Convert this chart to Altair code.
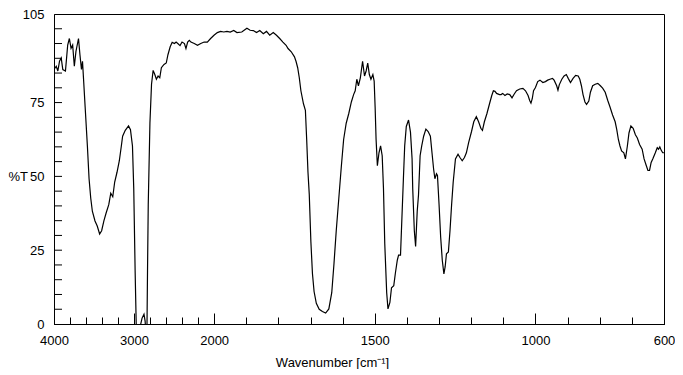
import altair as alt
import pandas as pd

wavenumber = [
    4000, 3972, 3952, 3931, 3910, 3890, 3857, 3829, 3808, 3787, 3767, 3746, 3726, 3694, 3676, 3657, 3644, 3632,
    3611, 3583, 3562, 3541, 3521, 3488, 3460, 3430, 3405, 3377, 3349, 3316, 3291, 3266, 3242, 3213, 3184, 3159,
    3143, 3110, 3069, 3045, 3020, 3004, 2987, 2971, 2950, 2925, 2900, 2876, 2862, 2852, 2839, 2832, 2823, 2802,
    2782, 2762, 2741, 2721, 2700, 2679, 2659, 2626, 2598, 2577, 2549, 2524, 2495, 2475, 2454, 2426, 2401, 2371,
    2352, 2331, 2310, 2290, 2248, 2208, 2167, 2125, 2085, 2044, 2002, 1990, 1980, 1970, 1960, 1950, 1939, 1929,
    1914, 1898, 1888, 1878, 1868, 1858, 1847, 1837, 1827, 1816, 1806, 1796, 1786, 1776, 1770, 1760, 1750, 1745,
    1740, 1735, 1730, 1722, 1716, 1712, 1708, 1704, 1699, 1694, 1689, 1682, 1673, 1663, 1653, 1643, 1634, 1627,
    1620, 1612, 1604, 1597, 1589, 1581, 1573, 1566, 1561, 1556, 1551, 1545, 1538, 1532, 1527, 1522, 1517, 1512,
    1506, 1502, 1499, 1496, 1492, 1487, 1482, 1477, 1473, 1469, 1463, 1459, 1453, 1448, 1441, 1436, 1430, 1426,
    1420, 1416, 1411, 1407, 1402, 1395, 1389, 1384, 1382, 1377, 1373, 1368, 1364, 1359, 1354, 1348, 1341, 1334,
    1327, 1322, 1317, 1313, 1308, 1305, 1300, 1295, 1290, 1285, 1281, 1277, 1271, 1266, 1261, 1256, 1249, 1241,
    1235, 1228, 1221, 1215, 1208, 1199, 1192, 1184, 1177, 1170, 1165, 1159, 1151, 1143, 1136, 1131, 1126, 1121,
    1112, 1107, 1102, 1095, 1088, 1080, 1073, 1066, 1059, 1049, 1039, 1031, 1023, 1018, 1014, 1010, 1006, 1000,
    993, 986, 977, 969, 962, 955, 947, 942, 934, 930, 926, 918, 911, 904, 898, 891, 883, 875, 867, 862, 857, 852,
    846, 841, 834, 829, 822, 814, 806, 798, 791, 783, 775, 768, 760, 752, 747, 742, 737, 732, 725, 720, 714, 709,
    703, 696, 689, 683, 676, 668, 662, 655, 650, 645, 640, 635, 627, 621, 617, 613, 609, 604, 600,
]

transmittance = [
    86.2, 87.3, 85.7, 89.0, 90.1, 86.2, 85.7, 94.5, 96.7, 93.4, 94.5, 87.3, 92.3, 96.7, 91.2, 86.2, 89.0, 83.4,
    73.5, 60.3, 49.2, 42.6, 38.2, 34.9, 33.2, 30.5, 31.6, 34.9, 37.6, 40.4, 44.3, 43.1, 48.1, 51.4, 55.3, 60.3,
    63.6, 65.6, 67.1, 65.8, 60.3, 45.9, 18.3, -3.0, -3.0, -1.0, 2.0, 3.3, 1.0, -3.0, -2.0, 18.0, 40.4, 68.0,
    81.2, 85.9, 84.5, 82.9, 84.0, 83.4, 86.8, 87.9, 88.4, 91.2, 93.9, 95.4, 95.0, 95.5, 95.0, 94.3, 95.5, 95.0,
    93.3, 95.5, 96.1, 95.5, 95.0, 94.4, 95.0, 95.5, 95.5, 96.7, 97.8, 98.7, 99.1, 98.9, 99.1, 98.9, 99.4, 98.7,
    98.9, 100.2, 99.5, 99.4, 98.7, 99.4, 98.3, 99.1, 97.8, 98.7, 97.8, 96.7, 95.5, 94.4, 93.3, 92.2, 90.5, 88.9,
    86.8, 83.4, 79.0, 74.6, 72.4, 62.5, 51.5, 44.0, 28.0, 17.0, 11.0, 7.0, 5.0, 4.2, 3.7, 5.1, 10.6, 20.5,
    31.6, 42.6, 53.6, 62.5, 68.0, 71.3, 75.2, 77.7, 79.0, 82.9, 80.7, 83.4, 89.0, 84.0, 85.7, 88.4, 84.5, 82.9,
    84.5, 82.3, 73.5, 62.5, 53.6, 58.0, 60.3, 57.0, 45.9, 27.2, 10.6, 5.1, 7.3, 12.3, 13.0, 17.2, 21.6, 23.3,
    23.3, 34.9, 49.2, 60.3, 66.9, 69.1, 65.0, 56.0, 45.9, 31.6, 26.3, 38.2, 43.7, 57.0, 60.3, 63.6, 66.0, 65.2,
    63.6, 58.0, 52.5, 49.2, 50.9, 50.3, 40.4, 29.4, 21.6, 17.0, 19.4, 23.8, 24.4, 31.6, 40.4, 48.1, 55.9, 57.5,
    56.4, 55.3, 56.4, 58.0, 61.4, 65.2, 68.5, 70.2, 68.5, 66.3, 65.6, 68.5, 71.3, 74.6, 77.4, 79.0, 78.8, 78.1,
    77.7, 77.7, 78.1, 77.4, 77.9, 77.7, 76.6, 77.9, 79.0, 79.6, 79.8, 79.0, 77.4, 75.7, 74.8, 76.3, 79.0, 80.1,
    82.1, 82.6, 81.8, 82.1, 82.6, 82.9, 83.2, 82.6, 80.7, 79.2, 81.0, 82.9, 84.0, 84.5, 83.2, 81.8, 83.2, 84.2,
    84.0, 82.9, 80.7, 77.7, 75.2, 74.4, 75.5, 78.5, 80.7, 81.2, 81.5, 80.7, 79.9, 78.5, 75.7, 73.5, 70.8, 68.5,
    65.8, 62.5, 60.3, 58.6, 58.0, 55.9, 60.3, 64.7, 67.1, 66.3, 64.1, 63.0, 60.8, 59.2, 55.9, 53.6, 52.0, 52.0,
    54.7, 55.9, 58.0, 59.7, 59.2, 60.0, 58.9, 58.0, 58.0,
]

x_labels = [4000, 3000, 2000, 1500, 1000, 600]
x_minor = list(range(4000, 1999, -200)) + list(range(1900, 599, -100))
y_ticks = list(range(5, 101, 5))
y_labels = [0, 25, 50, 75, 105]

df = pd.DataFrame({"wn": wavenumber, "T": transmittance})
ytick_df = pd.DataFrame({"T": y_ticks})

W = 610
H = 310
FONT = "Liberation Sans"
YTICK_LEN = 8

xscale = alt.Scale(domain=[4000, 2000, 600], range=[0, W * 162.5 / 619, W])
yscale = alt.Scale(domain=[0, 105], nice=False, zero=False)

y_enc = alt.Y(
    "T:Q",
    scale=yscale,
    axis=alt.Axis(
        values=y_labels,
        labelOverlap=False,
        ticks=False,
        labelPadding=10,
        grid=False,
        zindex=2,
        title="%T",
        titleAngle=0,
        titleAlign="left",
        titleBaseline="middle",
        titleX=-46,
        titleY=H * (1 - 50 / 105),
    ),
)

minor = alt.Chart(df).mark_line(color="black", strokeWidth=1.2, clip=True).encode(
    x=alt.X(
        "wn:Q",
        scale=xscale,
        axis=alt.Axis(
            orient="bottom",
            values=x_minor,
            labels=False,
            title=None,
            grid=False,
            zindex=2,
            tickSize=alt.ExprRef("-7"),
        ),
    ),
    y=y_enc,
)

major = alt.Chart(df).mark_line(opacity=0, clip=True).encode(
    x=alt.X(
        "wn:Q",
        scale=xscale,
        axis=alt.Axis(
            orient="bottom",
            values=x_labels,
            format="d",
            labelFlush=False,
            labelOverlap=False,
            grid=False,
            zindex=2,
            tickSize=alt.ExprRef("-11"),
            labelPadding=21,
            title="Wavenumber [cm⁻¹]",
            titleX=278,
            titleY=38,
            titleAlign="center",
            titleBaseline="middle",
        ),
    ),
    y=y_enc,
)

yticks = alt.Chart(ytick_df).mark_rule(color="black", strokeWidth=1).encode(
    y=y_enc,
    x=alt.value(0),
    x2=alt.value(YTICK_LEN),
)

chart = (
    alt.layer(minor, major, yticks)
    .resolve_axis(x="independent")
    .properties(width=W, height=H, padding=0)
    .configure_view(stroke="black", strokeWidth=1)
    .configure_axis(
        labelFont=FONT,
        titleFont=FONT,
        labelFontSize=13,
        titleFontSize=13,
        titleFontWeight="normal",
        labelColor="black",
        titleColor="black",
        domainColor="black",
        tickColor="black",
        tickWidth=1,
    )
)

chart.save("out.html", embed_options={"renderer": "svg", "actions": False})
